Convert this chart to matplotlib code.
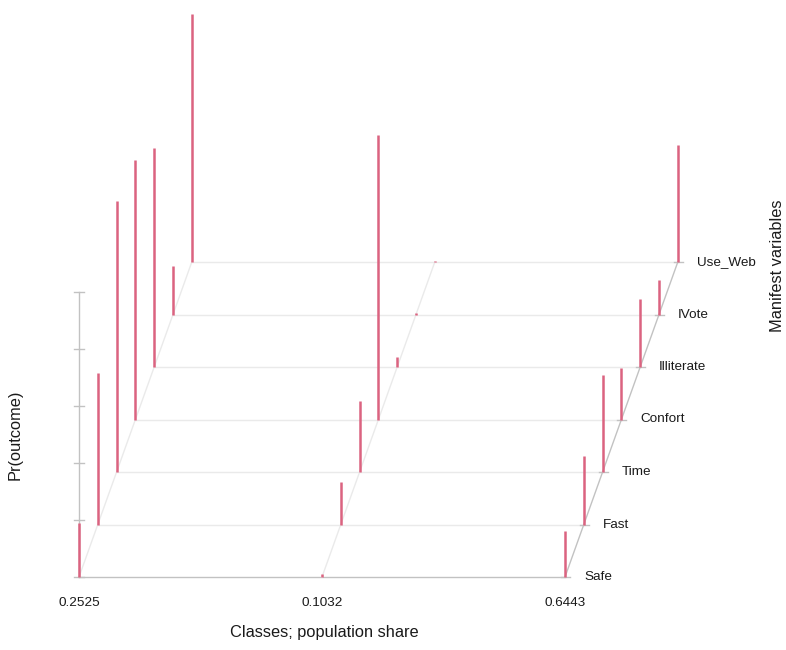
import matplotlib
matplotlib.use('Agg')
import matplotlib.pyplot as plt

# class shares (x axis) and manifest variables (depth axis)
classes = ['0.2525', '0.1032', '0.6443']
variables = ['Safe', 'Fast', 'Time', 'Confort', 'Illiterate', 'IVote', 'Use_Web']

# Pr(outcome) per class, per variable
class1 = [0.19, 0.53, 0.95, 0.91, 0.77, 0.17, 0.87]
class2 = [0.01, 0.15, 0.25, 1.00, 0.035, 0.005, 0.005]
class3 = [0.16, 0.24, 0.34, 0.18, 0.24, 0.12, 0.41]
probs = [class1, class2, class3]

z_ticks = [0, 0.2, 0.4, 0.6, 0.8, 1.0]

# simple oblique projection (pixel space)
X0, Y0 = 79, 577
DX_CLASS = 243
DX_VAR, DY_VAR = 18.8, -52.5
Z_SCALE = 285


def proj(c, v, z=0.0):
    return X0 + c * DX_CLASS + v * DX_VAR, Y0 + v * DY_VAR - z * Z_SCALE


plt.rcParams['font.family'] = ['Liberation Sans', 'DejaVu Sans']
fig = plt.figure(figsize=(7.86, 6.5), dpi=100)
ax = fig.add_axes([0, 0, 1, 1])
ax.set_xlim(0, 786)
ax.set_ylim(650, 0)
ax.axis('off')

light = '#eaeaea'
dark = '#c2c2c2'
nc, nv = len(classes), len(variables)

# floor grid: rows
for v in range(nv):
    xa, ya = proj(0, v)
    xb, yb = proj(nc - 1, v)
    ax.plot([xa, xb], [ya, yb], color=dark if v == 0 else light, lw=1, zorder=1)
# floor grid: class lines
for c in range(nc):
    xa, ya = proj(c, 0)
    xb, yb = proj(c, nv - 1)
    ax.plot([xa, xb], [ya, yb], color=dark if c == nc - 1 else light, lw=1, zorder=1)

# ticks on right edge
for v in range(nv):
    xa, ya = proj(nc - 1, v)
    ax.plot([xa - 4, xa + 5], [ya, ya], color=dark, lw=1, zorder=1)
    ax.text(xa + 19, ya, variables[v], fontsize=9.7, va='center', ha='left', color='#1a1a1a')

# z axis
xa, ya = proj(0, 0, 0)
xb, yb = proj(0, 0, z_ticks[-1])
ax.plot([xa, xb], [ya, yb], color=dark, lw=1, zorder=1)
for t in z_ticks:
    x, y = proj(0, 0, t)
    ax.plot([x - 5, x + 5], [y, y], color=dark, lw=1, zorder=1)

# bars
for c in range(nc):
    for v in range(nv):
        xa, ya = proj(c, v, 0)
        xb, yb = proj(c, v, probs[c][v])
        ax.plot([xa, xb], [ya, yb], color='#db6380', lw=1.8, solid_capstyle='butt', zorder=3)

# class labels
for c in range(nc):
    x, y = proj(c, 0)
    ax.text(x, 603, classes[c], fontsize=9.7, ha='center', va='center', color='#1a1a1a')

ax.text(324, 633, 'Classes; population share', fontsize=11.8, ha='center', va='center', color='#1a1a1a')
ax.text(15, 435, 'Pr(outcome)', fontsize=11.8, ha='center', va='center', rotation=90, color='#1a1a1a')
ax.text(777, 266, 'Manifest variables', fontsize=11.8, ha='center', va='center', rotation=90, color='#1a1a1a')

fig.savefig('out.png', dpi=100)
